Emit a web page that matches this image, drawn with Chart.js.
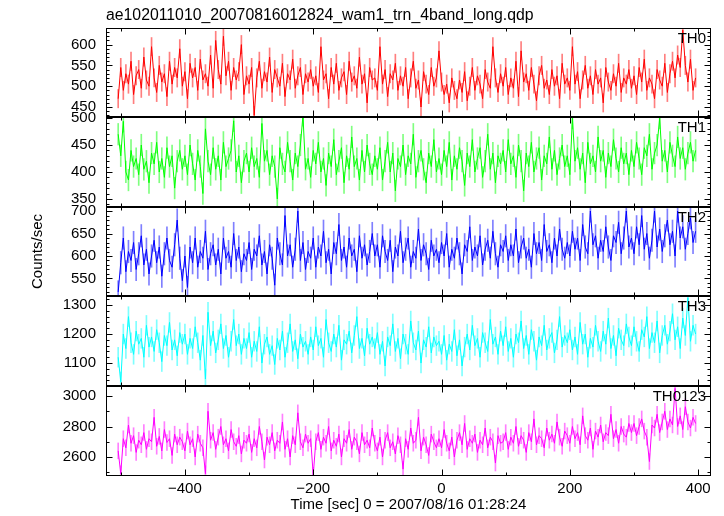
<!DOCTYPE html>
<html><head><meta charset="utf-8">
<script src="https://cdn.jsdelivr.net/npm/chart.js@4.4.1/dist/chart.umd.min.js"></script>
<style>
html,body{margin:0;padding:0;background:#fff;}
#wrap{position:relative;width:724px;height:516px;overflow:hidden;}
canvas{position:absolute;left:0;top:0;}
</style></head><body>
<div id="wrap">
<canvas id="c0" width="724" height="516"></canvas>
<canvas id="c1" width="724" height="516"></canvas>
<canvas id="c2" width="724" height="516"></canvas>
<canvas id="c3" width="724" height="516"></canvas>
<canvas id="c4" width="724" height="516"></canvas>
</div>
<script>
// ---- text ----
const titleText = "ae102011010_20070816012824_wam1_trn_4band_long.qdp";
const xLabel = "Time [sec] 0 = 2007/08/16 01:28:24";
const yLabel = "Counts/sec";
const bandNames = ["TH0", "TH1", "TH2", "TH3", "TH0123"];

// ---- time bins ----
const timeStart = -504;
const binWidth = 4;
const xMin = -523, xMax = 420;
const xTicks = [-400, -200, 0, 200, 400];

// ---- series values (counts/sec) ----
const th0 = [
470,545,490,530,505,560,480,525,540,495,570,515,500,595,520,485,550,510,530,475,560,505,545,520,590,
500,535,470,555,520,545,490,565,515,530,500,575,495,610,540,505,620,525,560,490,545,515,535,600,480,
525,505,545,430,520,560,495,535,510,570,485,540,520,500,555,475,530,515,565,495,525,545,480,530,510,
540,500,525,485,595,515,530,470,545,505,555,490,520,535,480,560,510,525,495,570,505,530,460,545,515,
520,490,595,505,540,475,530,515,555,490,525,500,545,470,520,560,495,515,450,535,505,480,545,500,520,
585,510,480,505,460,520,490,470,515,485,535,465,500,545,490,525,505,470,540,510,495,595,520,485,530,
500,545,480,520,495,560,475,585,510,530,490,545,505,465,525,550,495,515,480,540,500,525,470,555,505,
520,490,595,505,535,470,515,550,495,525,480,540,505,520,460,545,510,490,530,500,555,485,520,505,540,
495,525,480,545,510,565,490,520,505,470,540,515,500,555,485,530,560,520,575,545,635,550,510,565,490,520];
const th1 = [
470,430,494,400,385,440,410,425,395,450,405,420,380,435,415,455,400,425,390,445,410,430,370,420,440,
405,430,395,450,415,385,440,410,360,480,420,395,445,405,430,385,455,410,425,440,495,400,430,380,420,
435,400,445,410,425,390,490,420,440,395,430,410,350,445,415,400,455,420,385,435,410,450,505,405,425,
390,440,415,455,400,425,375,435,410,460,395,420,445,380,430,405,465,410,425,385,440,400,450,415,395,
430,405,445,385,420,455,400,435,365,425,410,450,395,430,415,470,390,420,440,405,380,435,410,460,400,
425,395,440,410,455,385,430,405,445,420,375,435,410,460,400,425,445,390,420,470,405,435,380,430,415,
440,400,460,415,430,390,450,420,365,435,410,455,400,425,445,385,430,415,465,405,440,395,425,450,410,
430,395,500,420,445,405,435,380,455,415,430,400,465,420,440,390,435,410,460,425,400,445,415,435,395,
440,410,455,425,395,445,430,470,405,435,450,500,420,440,400,455,430,410,465,425,445,405,435,455,420,440];
const th2 = [
520,585,640,565,610,590,630,570,605,645,580,615,560,600,635,585,620,555,605,640,590,575,625,680,595,
545,600,530,620,585,640,575,610,595,655,570,605,625,580,615,560,640,595,610,575,650,590,620,565,605,
590,630,570,615,600,645,580,610,560,625,595,535,640,605,580,690,600,625,575,615,700,590,630,570,610,
595,640,575,620,600,655,585,615,560,630,605,670,590,620,575,640,600,615,565,645,595,625,580,610,650,
600,625,575,645,610,590,635,565,620,600,655,585,615,640,575,610,595,660,590,625,605,570,635,600,615,
585,630,600,650,575,615,595,640,605,560,625,610,665,590,620,600,645,580,615,635,595,655,605,575,625,
610,645,590,625,600,660,585,620,640,595,615,575,650,605,630,590,670,610,625,585,640,600,660,615,595,
630,600,655,615,640,590,670,620,605,700,625,645,595,635,610,665,620,590,645,630,675,605,640,700,620,
640,605,665,625,690,615,650,595,635,700,620,660,610,645,680,625,655,600,700,640,665,615,650,685,630,655];
const th3 = [
1120,1035,1200,1150,1260,1170,1130,1210,1165,1185,1120,1230,1155,1190,1140,1215,1170,1105,1195,1160,1240,1145,1180,1125,1205,
1165,1200,1130,1185,1150,1225,1170,1110,1195,1045,1275,1160,1210,1135,1180,1235,1150,1195,1120,1175,1250,1160,1200,1130,1185,
1150,1205,1120,1175,1140,1225,1100,1165,1190,1130,1160,1095,1185,1145,1210,1120,1170,1235,1140,1180,1115,1200,1155,1175,1130,
1190,1145,1225,1160,1185,1120,1250,1170,1140,1200,1155,1230,1110,1180,1165,1210,1135,1195,1260,1150,1185,1125,1220,1165,1190,
1150,1205,1130,1175,1090,1190,1160,1235,1140,1185,1115,1200,1165,1130,1245,1170,1145,1210,1100,1180,1155,1225,1135,1190,1160,
1175,1130,1195,1110,1165,1140,1215,1125,1180,1090,1155,1200,1145,1230,1160,1185,1120,1205,1170,1140,1250,1165,1190,1130,1210,
1160,1225,1140,1185,1120,1200,1170,1245,1150,1195,1130,1215,1175,1110,1190,1160,1230,1145,1185,1205,1135,1180,1260,1155,1195,
1170,1215,1145,1190,1130,1240,1165,1200,1120,1185,1155,1230,1175,1140,1210,1165,1255,1150,1195,1125,1220,1180,1160,1235,1190,
1160,1225,1175,1140,1215,1190,1260,1150,1205,1170,1245,1135,1195,1230,1165,1210,1270,1180,1225,1150,1255,1195,1325,1175,1230,1200];
const th0123 = [
2640,2490,2720,2660,2810,2690,2740,2630,2710,2680,2760,2650,2720,2700,2860,2670,2735,2640,2780,2695,2720,2610,2750,2680,2730,
2700,2640,2770,2680,2720,2600,2750,2690,2660,2490,2900,2710,2760,2650,2730,2800,2680,2720,2640,2780,2700,2670,2740,2620,2710,
2690,2750,2630,2720,2660,2800,2700,2580,2730,2680,2760,2640,2710,2690,2830,2650,2720,2600,2740,2680,2890,2700,2660,2750,2690,
2720,2480,2700,2760,2650,2730,2690,2800,2640,2710,2670,2750,2600,2720,2690,2780,2650,2730,2700,2620,2760,2680,2710,2660,2790,
2690,2640,2730,2600,2710,2760,2660,2700,2620,2740,2680,2520,2720,2650,2790,2690,2710,2860,2640,2730,2680,2610,2750,2700,2660,
2720,2660,2780,2690,2640,2730,2600,2710,2760,2680,2820,2650,2720,2690,2750,2630,2710,2680,2790,2660,2730,2700,2560,2740,2690,
2700,2760,2650,2730,2690,2800,2670,2740,2710,2630,2760,2700,2850,2680,2740,2720,2660,2790,2710,2750,2690,2830,2730,2670,2770,
2740,2690,2800,2720,2760,2680,2870,2740,2710,2790,2650,2770,2730,2810,2700,2760,2740,2880,2720,2780,2690,2800,2750,2730,2820,
2760,2820,2740,2800,2850,2770,2730,2570,2810,2790,2880,2760,2830,2900,2780,2850,2810,3050,2800,2870,2780,2930,2830,2790,2860,2820];

// approximate 1-sigma error per band
const errors = [22, 20, 25, 34, 52];

// ---- y axes ----
const yMin = [426, 335, 511, 1021, 2475];
const yMax = [640, 502, 709, 1331, 3066];
const yTicks = [
  [450, 500, 550, 600],
  [350, 400, 450, 500],
  [550, 600, 650, 700],
  [1100, 1200, 1300],
  [2600, 2800, 3000]
];
const yMajorStep = [50, 50, 50, 100, 200];
const yMinorStep = [10, 10, 10, 20, 100];
const xMajorStep = 200, xMinorStep = 100;

// ---- styles ----
const lineColors = ["#ff0000", "#00ff00", "#0000ff", "#00ffff", "#ff00ff"];
const errColors = ["rgba(255,0,0,0.5)", "rgba(0,255,0,0.5)", "rgba(0,0,255,0.5)", "rgba(0,255,255,0.5)", "rgba(255,0,255,0.5)"];
const panelTops = [27, 117, 207, 296, 386];
const panelBottoms = [117, 207, 296, 386, 476];
const FONT = "'Liberation Sans', Arial, Helvetica, sans-serif";

Chart.defaults.font.family = FONT;
Chart.defaults.font.size = 15;
Chart.defaults.color = '#000';

function fmt(v) { return v < 0 ? '\u2212' + Math.abs(v) : String(v); }

const panelPlugin = {
  id: 'panel',
  afterDraw(chart, args, opts) {
    const {ctx, chartArea: a} = chart;
    const xs = chart.scales.x, ys = chart.scales.y;
    ctx.save();
    ctx.strokeStyle = '#000'; ctx.lineWidth = 1;
    const L = Math.round(a.left) + 0.5, R = Math.round(a.right) - 0.5;
    const T = Math.round(a.top) + 0.5, B = Math.round(a.bottom) - 0.5;
    ctx.strokeRect(L, T, R - L, B - T);
    ctx.beginPath();
    for (let t = Math.ceil(xs.min / xMinorStep) * xMinorStep; t <= xs.max; t += xMinorStep) {
      const px = Math.round(xs.getPixelForValue(t)) + 0.5;
      const len = (t % xMajorStep === 0) ? 6 : 3;
      ctx.moveTo(px, T); ctx.lineTo(px, T + len);
      ctx.moveTo(px, B); ctx.lineTo(px, B - len);
    }
    for (let v = Math.ceil(ys.min / opts.minor) * opts.minor; v <= ys.max; v += opts.minor) {
      const py = Math.round(ys.getPixelForValue(v)) + 0.5;
      const len = (v % opts.major === 0) ? 6 : 3;
      ctx.moveTo(L, py); ctx.lineTo(L + len, py);
      ctx.moveTo(R, py); ctx.lineTo(R - len, py);
    }
    ctx.stroke();
    ctx.fillStyle = '#000';
    ctx.font = '15px ' + FONT;
    ctx.textAlign = 'right'; ctx.textBaseline = 'middle';
    ctx.fillText(opts.name, a.right - 5, a.top + 11);
    ctx.restore();
  }
};

const series = [th0, th1, th2, th3, th0123];
series.forEach((vals, k) => {
  const pts = vals.map((v, i) => ({x: timeStart + binWidth * i, y: v}));
  const errPts = vals.map((v, i) => ({x: timeStart + binWidth * i, y: [v - errors[k], v + errors[k]]}));
  const isTop = k === 0, isBottom = k === series.length - 1, isMid = k === 2;
  const xScale = {type: 'linear', min: xMin, max: xMax, display: isBottom, offset: false,
    grid: {display: false, drawTicks: false, offset: false}, border: {display: false},
    afterBuildTicks: s => { s.ticks = xTicks.map(v => ({value: v})); },
    ticks: {callback: fmt, padding: 4, maxRotation: 0, autoSkip: false},
    title: {display: true, text: xLabel, padding: {top: 0, bottom: 2}}};
  if (isBottom) xScale.afterFit = s => { s.height = 40; };
  new Chart(document.getElementById('c' + k), {
    type: 'line',
    data: {datasets: [
      {type: 'line', label: bandNames[k], data: pts, borderColor: lineColors[k], borderWidth: 1,
        pointRadius: 0, tension: 0, fill: false, order: 0},
      {type: 'bar', label: bandNames[k] + ' error', data: errPts, backgroundColor: errColors[k],
        borderWidth: 0, barThickness: 1, grouped: false, order: 1}
    ]},
    options: {
      responsive: false, animation: false, events: [],
      layout: {padding: {left: 0, right: 13, top: isTop ? 0 : panelTops[k], bottom: isBottom ? 0 : 516 - panelBottoms[k]}},
      plugins: {
        legend: {display: false}, tooltip: {enabled: false},
        title: {display: isTop, text: titleText, align: 'start', fullSize: false,
          padding: {top: 6, bottom: 3}, font: {size: 15.8, weight: 'normal'}, color: '#000'},
        panel: {minor: yMinorStep[k], major: yMajorStep[k], name: bandNames[k]}
      },
      scales: {
        x: xScale,
        y: {type: 'linear', min: yMin[k], max: yMax[k],
          grid: {display: false, drawTicks: false}, border: {display: false},
          afterBuildTicks: s => { s.ticks = yTicks[k].map(v => ({value: v})); },
          afterFit: s => { s.width = 106; },
          ticks: {callback: fmt, padding: 10, autoSkip: false},
          title: {display: isMid, text: yLabel, padding: {top: 29, bottom: 0}}}
      }
    },
    plugins: [panelPlugin]
  });
});
</script>
</body></html>
